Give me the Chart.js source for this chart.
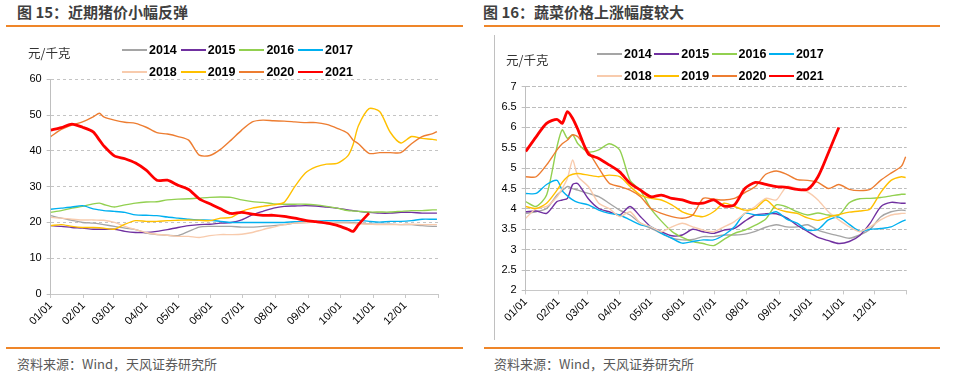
<!DOCTYPE html>
<html>
<head>
<meta charset="utf-8">
<script src="https://cdn.jsdelivr.net/npm/chart.js@4.4.0/dist/chart.umd.min.js"></script>
<style>
  html, body { margin: 0; padding: 0; background: #fff; }
  body { position: relative; width: 964px; height: 382px; overflow: hidden; font-family: "Noto Sans CJK SC", "Liberation Sans", sans-serif; }
  .title { position: absolute; top: 2px; font-size: 15px; font-weight: bold; color: #3f3f3f; line-height: 20px; white-space: nowrap; }
  .rule { position: absolute; height: 2px; background: #EF8629; }
  .source { position: absolute; top: 355px; font-size: 13px; color: #595959; line-height: 18px; white-space: nowrap; }
  .unit { position: absolute; font-size: 12.5px; color: #333; line-height: 16px; white-space: nowrap; }
  .legend { position: absolute; display: grid; grid-auto-rows: 22px; font: bold 12.5px "Liberation Sans", Arial, sans-serif; color: #000; }
  .legend .item { display: flex; align-items: center; white-space: nowrap; }
  .legend .swatch { display: inline-block; width: 25px; margin-right: 2px; }
  .vline { position: absolute; left: 494px; top: 35px; width: 1px; height: 305px; background: #C0C0C0; }
  canvas { position: absolute; top: 0; }
</style>
</head>
<body>
<div class="title" style="left:17px">图 15：近期猪价小幅反弹</div>
<div class="rule" style="left:6px; width:457px; top:25px"></div>
<div class="title" style="left:483px">图 16：蔬菜价格上涨幅度较大</div>
<div class="rule" style="left:484px; width:456px; top:25px"></div>
<div class="vline"></div>

<canvas id="porkChart" width="470" height="345" style="left:0"></canvas>
<canvas id="vegChart" width="484" height="345" style="left:480px"></canvas>

<div class="unit" style="left:28px; top:45px">元/千克</div>
<div class="unit" style="left:506px; top:52px">元/千克</div>
<div class="legend" id="porkLegend" style="left:122px; top:39px; grid-template-columns: repeat(4, 58.7px)"></div>
<div class="legend" id="vegLegend" style="left:597px; top:43px; grid-template-columns: repeat(4, 57.3px)"></div>

<div class="rule" style="left:6px; width:457px; top:347px"></div>
<div class="rule" style="left:484px; width:456px; top:347px"></div>
<div class="source" style="left:17px">资料来源：Wind，天风证券研究所</div>
<div class="source" style="left:494px">资料来源：Wind，天风证券研究所</div>

<script>
// 月初の位置（1年の日数）と目盛りラベル
const MONTH_DAYS = [0, 31, 59, 90, 120, 151, 181, 212, 243, 273, 304, 334, 365]
const MONTH_LABELS = ['01/01', '02/01', '03/01', '04/01', '05/01', '06/01', '07/01', '08/01', '09/01', '10/01', '11/01', '12/01']
const YEARS = ['2014', '2015', '2016', '2017', '2018', '2019', '2020', '2021']
const LINE_COLORS = ['#A5A5A5', '#7030A0', '#92D050', '#00B0F0', '#F8CBAD', '#FFC000', '#ED7D31', '#FF0000']

// 图15 猪价（元/千克）
const PORK_DAYS = [0, 10, 20, 30, 40, 46, 50, 60, 70, 80, 90, 100, 110, 120, 130, 140, 150, 160, 170, 180, 190, 200, 210, 220, 230, 240, 250, 260, 270, 280, 285, 290, 300, 310, 320, 330, 340, 350, 360, 364]
const PORK_2014 = [21.9, 21.2, 20.6, 20, 19.8, 19.6, 19.4, 18.9, 18.4, 18, 17, 16.6, 16.4, 16.3, 17.5, 18.7, 18.9, 18.9, 18.9, 18.7, 18.7, 18.9, 19.1, 19.4, 19.8, 20, 20.1, 20, 20, 20, 19.9, 19.8, 19.6, 19.5, 19.5, 19.4, 19.4, 19.1, 18.9, 18.9]
const PORK_2015 = [19.1, 18.9, 18.6, 18.4, 18.1, 18.1, 18.1, 18.1, 17.5, 17.2, 17.2, 17.5, 18, 18.6, 19.1, 19.4, 19.5, 19.8, 20, 20.7, 22.1, 23.1, 24, 24.5, 24.6, 24.7, 24.6, 24.3, 24, 23.5, 23.3, 23.1, 22.8, 22.6, 22.6, 22.8, 22.8, 22.6, 22.6, 22.6]
const PORK_2016 = [22.8, 23.3, 24, 24.5, 25.2, 25.4, 25.0, 24.3, 24.9, 25.4, 25.7, 25.8, 26.3, 26.5, 26.6, 26.8, 27, 27.1, 27, 26.3, 25.8, 25.6, 25.2, 25.1, 25.1, 25.1, 24.9, 24.5, 24, 23.3, 23.2, 23.1, 22.9, 22.9, 22.9, 23.1, 23.3, 23.3, 23.5, 23.5]
const PORK_2017 = [23.7, 24, 24.3, 24.7, 23.8, 23.5, 23.3, 23.1, 22.8, 22.1, 22, 21.9, 21.5, 21.2, 20.9, 20.7, 20.6, 20.3, 20, 20, 20, 20, 20, 20, 20.2, 20.3, 20.3, 20.5, 20.5, 20.5, 20.5, 20.6, 20.3, 20.1, 20.3, 20.3, 20.5, 20.9, 20.9, 20.9]
const PORK_2018 = [21.4, 21.2, 20.9, 20.7, 20.7, 20.6, 20.6, 20, 18.9, 18, 17.2, 16.7, 16.4, 16.1, 16.1, 15.8, 16.3, 16.6, 16.6, 16.7, 17.2, 18, 18.7, 19.4, 19.8, 20, 20.1, 20, 19.8, 19.8, 19.7, 19.6, 19.5, 19.4, 19.4, 19.4, 19.5, 19.4, 19.4, 19.4]
const PORK_2019 = [19.1, 19.4, 18.9, 18.6, 18.6, 18.5, 18.4, 18.1, 19.5, 20.5, 20.3, 20.3, 20.5, 20.6, 20.7, 20.6, 20.5, 21.2, 21.4, 23.1, 24, 24.5, 24.9, 25.6, 30, 33.8, 35.5, 36.3, 36.5, 38.6, 41.8, 47, 51.8, 51, 45.2, 42.2, 44, 43.5, 43.2, 43]
const PORK_2020 = [44, 46, 47.2, 48.1, 49.5, 50.5, 49.5, 48.6, 48, 47.7, 46.6, 45.1, 44.7, 44, 43, 38.8, 38.7, 40.4, 43, 45.8, 48.1, 48.6, 48.4, 48.3, 48.1, 47.9, 47.9, 47.4, 46.3, 44.9, 43, 42, 39.3, 39.5, 39.5, 39.5, 42, 44, 44.8, 45.4]
const PORK_2021 = [45.8, 46.5, 47.5, 46.6, 45.3, 43, 41.4, 38.6, 37.8, 36.6, 34.6, 31.8, 31.8, 30.4, 29.2, 26.6, 25.2, 23.8, 22.5, 22.8, 22.3, 22, 22, 21.7, 21.2, 20.6, 20.2, 19.8, 19.2, 18.1, 17.5, 19.4, 22.6]

// 图16 蔬菜价格（元/千克）
const VEG_DAYS = [0, 10, 20, 30, 35, 40, 45, 50, 60, 70, 80, 90, 100, 110, 120, 130, 140, 150, 160, 170, 180, 190, 200, 210, 220, 230, 240, 250, 260, 270, 280, 290, 300, 310, 320, 330, 340, 350, 360, 364]
const VEG_2014 = [3.89, 3.93, 4.01, 4.34, 4.45, 4.55, 4.5, 4.46, 4.38, 4.3, 4.14, 3.97, 3.85, 3.65, 3.52, 3.4, 3.28, 3.24, 3.25, 3.32, 3.32, 3.36, 3.36, 3.38, 3.45, 3.55, 3.61, 3.56, 3.56, 3.61, 3.48, 3.4, 3.34, 3.28, 3.36, 3.5, 3.8, 3.93, 3.97, 3.96]
const VEG_2015 = [3.93, 3.95, 3.89, 4.18, 4.22, 4.26, 4.6, 4.62, 4.25, 4.01, 3.93, 3.85, 4.06, 3.81, 3.56, 3.44, 3.34, 3.36, 3.5, 3.44, 3.4, 3.48, 3.52, 3.7, 3.85, 3.88, 3.88, 3.78, 3.6, 3.45, 3.3, 3.22, 3.15, 3.2, 3.35, 3.65, 4.05, 4.16, 4.14, 4.14]
const VEG_2016 = [4.18, 4.06, 4.34, 5.53, 5.94, 5.73, 5.82, 5.6, 5.4, 5.45, 5.6, 5.45, 4.7, 4.45, 4.0, 3.7, 3.45, 3.3, 3.2, 3.15, 3.1, 3.25, 3.4, 3.48, 3.6, 3.75, 4.1, 4.05, 3.93, 3.85, 3.9, 3.85, 3.85, 4.15, 4.25, 4.26, 4.28, 4.32, 4.36, 4.36]
const VEG_2017 = [4.38, 4.38, 4.6, 4.7, 4.45, 4.32, 4.22, 4.16, 4.1, 3.97, 3.89, 3.85, 3.73, 3.61, 3.56, 3.4, 3.28, 3.16, 3.2, 3.24, 3.24, 3.36, 3.56, 3.89, 3.85, 3.85, 3.93, 3.75, 3.65, 3.48, 3.5, 3.73, 3.8, 3.62, 3.45, 3.5, 3.52, 3.56, 3.69, 3.73]
const VEG_2018 = [3.77, 4.01, 4.06, 4.3, 4.5, 4.75, 5.2, 4.8, 4.55, 4.14, 4.01, 3.81, 3.93, 3.65, 3.56, 3.44, 3.56, 3.65, 3.56, 3.48, 3.44, 3.56, 3.69, 3.89, 4.06, 4.26, 4.22, 4.55, 4.5, 4.42, 4.22, 3.93, 3.73, 3.56, 3.44, 3.56, 3.73, 3.85, 3.89, 3.89]
const VEG_2019 = [4.06, 4.01, 4.14, 4.46, 4.65, 4.79, 4.85, 4.87, 4.83, 4.79, 4.83, 4.79, 4.55, 4.34, 4.26, 4.22, 4.1, 3.93, 3.85, 3.81, 3.93, 4.14, 4.06, 3.97, 4.01, 4.22, 4.01, 3.93, 3.89, 3.78, 3.72, 3.8, 3.86, 3.92, 3.95, 4.0, 4.4, 4.7, 4.79, 4.77]
const VEG_2020 = [4.79, 4.79, 5.08, 5.45, 5.6, 5.69, 5.82, 5.77, 5.41, 5.0, 4.63, 4.55, 4.46, 4.3, 4.01, 3.89, 3.81, 3.77, 3.85, 4.26, 4.24, 4.22, 4.26, 4.4, 4.55, 4.85, 4.93, 4.85, 4.72, 4.7, 4.65, 4.5, 4.6, 4.48, 4.45, 4.48, 4.7, 4.88, 5.05, 5.28]
const VEG_2021 = [5.41, 5.77, 6.1, 6.2, 6.1, 6.39, 6.22, 5.95, 5.35, 5.24, 5.08, 4.91, 4.63, 4.46, 4.3, 4.34, 4.26, 4.22, 4.14, 4.14, 4.22, 4.07, 4.1, 4.5, 4.65, 4.6, 4.55, 4.53, 4.48, 4.48, 4.79, 5.38, 6.0]

Chart.defaults.font.family = "'Liberation Sans', Arial, sans-serif"
Chart.defaults.color = '#000'

function buildDatasets(days, seriesList) {
  return seriesList.map((values, i) => ({
    label: YEARS[i],
    data: values.map((v, j) => ({ x: days[j], y: v })),
    borderColor: LINE_COLORS[i],
    backgroundColor: LINE_COLORS[i],
    borderWidth: YEARS[i] === '2021' ? 2.8 : 1.4,
    pointRadius: 0,
    tension: 0.25,
    // 新しい年ほど手前に描く
    order: seriesList.length - 1 - i
  }))
}

function renderLegend(chart, el) {
  chart.data.datasets.forEach(ds => {
    const item = document.createElement('div')
    item.className = 'item'
    const swatch = document.createElement('span')
    swatch.className = 'swatch'
    swatch.style.height = Math.max(1.5, ds.borderWidth) + 'px'
    swatch.style.background = ds.borderColor
    item.appendChild(swatch)
    item.appendChild(document.createTextNode(ds.label))
    el.appendChild(item)
  })
}

function createYearChart(canvasId, legendId, days, seriesList, yAxis, area) {
  const ctx = document.getElementById(canvasId).getContext('2d')
  const chart = new Chart(ctx, {
    type: 'line',
    data: { datasets: buildDatasets(days, seriesList) },
    options: {
      responsive: false,
      animation: false,
      devicePixelRatio: 1,
      layout: { padding: { top: area.top, right: area.right, left: 0, bottom: 0 } },
      plugins: {
        legend: { display: false },
        tooltip: { enabled: false }
      },
      scales: {
        x: {
          type: 'linear',
          min: 0,
          max: 365,
          afterBuildTicks: axis => { axis.ticks = MONTH_DAYS.map(v => ({ value: v })) },
          afterFit: scale => { scale.height = area.xHeight },
          ticks: {
            autoSkip: false,
            maxRotation: 45,
            minRotation: 45,
            padding: 1,
            font: { size: 11 },
            callback: v => MONTH_LABELS[MONTH_DAYS.indexOf(v)] || ''
          },
          grid: { drawOnChartArea: false, drawTicks: true, tickLength: 4, color: '#C8C8C8' },
          border: { display: true, color: '#C8C8C8' }
        },
        y: {
          min: yAxis.min,
          max: yAxis.max,
          afterFit: scale => { scale.width = area.yWidth },
          ticks: {
            stepSize: yAxis.step,
            padding: 5,
            font: { size: 11 },
            callback: v => String(v)
          },
          grid: { color: yAxis.gridColor, tickLength: 4, tickColor: '#BFBFBF' },
          border: { display: true, color: '#BFBFBF', dash: yAxis.dash }
        }
      }
    }
  })
  renderLegend(chart, document.getElementById(legendId))
  return chart
}

createYearChart('porkChart', 'porkLegend', PORK_DAYS,
  [PORK_2014, PORK_2015, PORK_2016, PORK_2017, PORK_2018, PORK_2019, PORK_2020, PORK_2021],
  { min: 0, max: 60, step: 10, gridColor: '#C4C4C4', dash: [3, 3] },
  { top: 79.3, right: 32, yWidth: 50.7, xHeight: 51 })

createYearChart('vegChart', 'vegLegend', VEG_DAYS,
  [VEG_2014, VEG_2015, VEG_2016, VEG_2017, VEG_2018, VEG_2019, VEG_2020, VEG_2021],
  { min: 2, max: 7, step: 0.5, gridColor: '#BDBDBD', dash: [4, 2] },
  { top: 86.7, right: 57.3, yWidth: 45.7, xHeight: 54.6 })
</script>
</body>
</html>
